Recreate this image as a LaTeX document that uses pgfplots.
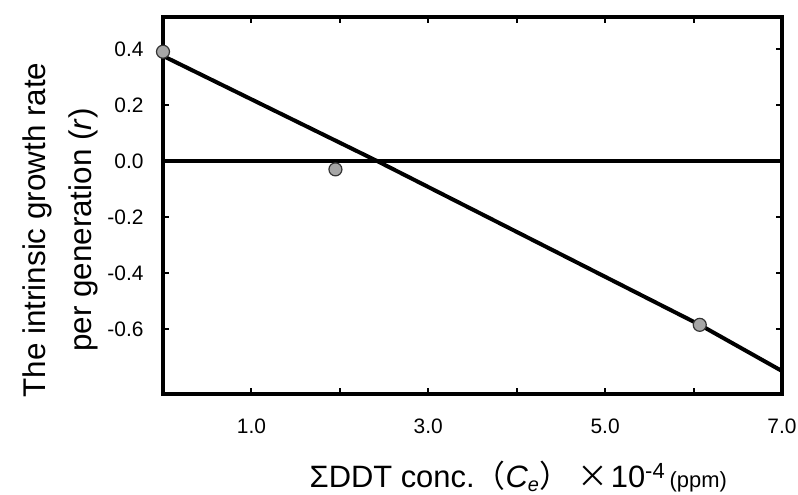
\documentclass[border=0pt]{standalone}
\usepackage{fontspec}
\setmainfont{Liberation Sans}
\newfontfamily\cjk{Noto Sans CJK JP}
\usepackage{pgfplots}
\pgfplotsset{compat=1.18}

\begin{document}
\begin{tikzpicture}
\begin{axis}[
    scale only axis,
    width=619bp, height=377bp,
    xmin=0, xmax=7,
    ymin=-0.832, ymax=0.514,
    axis line style={line width=3.2pt},
    xtick={1,2,3,4,5,6,7},
    xticklabels={1.0,,3.0,,5.0,,7.0},
    ytick={-0.6,-0.4,-0.2,0,0.2,0.4},
    yticklabels={-0.6,-0.4,-0.2,0.0,0.2,0.4},
    tick align=inside,
    major tick length=6bp,
    tick style={line width=2pt, black},
    tick label style={font=\fontsize{21}{23}\selectfont},
    xticklabel style={yshift=-21bp},
    yticklabel style={xshift=-16bp},
    xlabel={\fontsize{31}{34}\selectfont ΣDDT conc.{\cjk （}\textit{C}\raisebox{-4bp}{\fontsize{20}{20}\selectfont\textit{e}}{\cjk ）}\hspace{8bp}{\cjk ×}\hspace{2bp}10\raisebox{9bp}{\fontsize{22}{22}\selectfont -4}\hspace{5bp}{\fontsize{22}{22}\selectfont (ppm)}},
    xlabel style={at={(axis description cs:0.574,-0.247)}, anchor=base},
    ylabel={The intrinsic growth rate\\per generation (\textit{r})},
    ylabel style={at={(axis description cs:-0.166,0.435)}, anchor=center,
        align=center, font=\fontsize{31.5}{46}\selectfont},
]
% horizontal line at zero
\addplot[black, line width=3.2pt] coordinates {(0,0) (7,0)};
% fitted line
\addplot[black, line width=4pt, line join=round] coordinates {
    (0,0.375) (2.42,0) (6.07,-0.585) (7,-0.75)
};
% observed values
\addplot[only marks, mark=*, mark size=6.5bp,
    mark options={fill=gray!70, draw=black!80, line width=1.2pt}] coordinates {
    (0,0.39) (1.95,-0.03) (6.07,-0.585)
};
\end{axis}
\pgfresetboundingbox
\path (-163bp,-101bp) rectangle (635bp,394bp);
\end{tikzpicture}
\end{document}
